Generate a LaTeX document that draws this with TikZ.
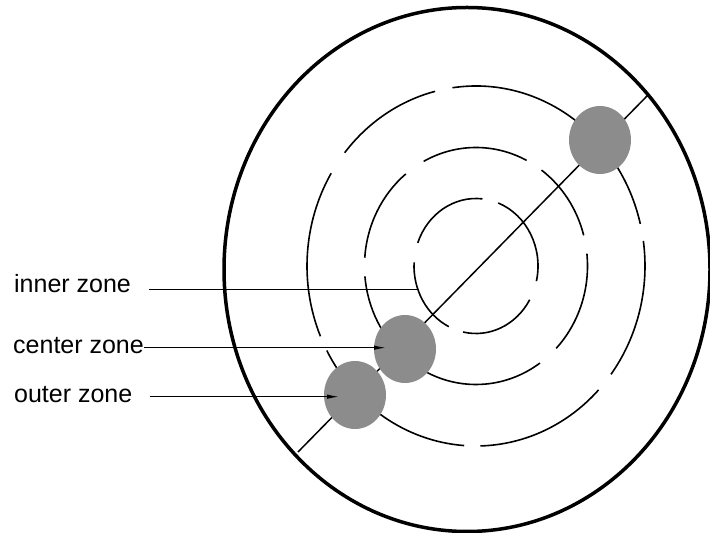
\documentclass[tikz,border=0pt]{standalone}
\usepackage{fontspec}
\setmainfont{Liberation Sans}
\usetikzlibrary{arrows.meta,shapes.geometric}
\begin{document}
\begin{tikzpicture}[x=1pt,y=1pt,
  ring/.style={line width=1.6pt},
  ball/.style={ellipse,fill=black!45,minimum width=62pt,minimum height=68pt,inner sep=0pt},
  zonelabel/.style={anchor=base west,inner sep=0pt,font=\fontsize{25}{30}\selectfont},
  pointer/.style={line width=1.5pt}]
\useasboundingbox (0,0) rectangle (710,533);
\coordinate (ctr) at (476,267);
\draw[line width=3.5pt] (467,263.5) ellipse[x radius=243,y radius=262];
% dashed zone rings
\foreach \a/\b in {84/160,177/244,258/330,347/429}
  \draw[ring] (ctr) ++(\a:62 and 67.5) arc[start angle=\a,end angle=\b,x radius=62,y radius=67.5];
\foreach \a/\b in {15/54,63/118,129/176,185/305,316/366}
  \draw[ring] (ctr) ++(\a:111.5 and 118.5) arc[start angle=\a,end angle=\b,x radius=111.5,y radius=118.5];
\foreach \a/\b in {13.5/98,104/141,149/203,208/266,271.5/316.5,323/368}
  \draw[ring] (ctr) ++(\a:169 and 180) arc[start angle=\a,end angle=\b,x radius=169,y radius=180];
\coordinate (lowend) at (298,81);
\coordinate (highend) at (648,438);
\draw[pointer] (lowend) -- (highend);
\node[ball] (outerball) at (355,138) {};
\node[ball] (centerball) at (405,184) {};
\node[ball] (farball) at (600,393) {};
\node[zonelabel] (innerlbl) at (14,240) {inner zone};
\node[zonelabel] (centerlbl) at (13,179) {center zone};
\node[zonelabel] (outerlbl) at (14,130) {outer zone};
\coordinate (innertip) at (419,243.7);
\coordinate (centertip) at (387,185.3);
\coordinate (outertip) at (340,136.3);
\draw[pointer] (innertip -| innerlbl.east) ++(18,0) -- (innertip);
\draw[pointer,-{Latex[length=13pt,width=4.5pt]}] (centertip -| centerlbl.east) -- (centertip);
\draw[pointer,-{Latex[length=13pt,width=4.5pt]}] (outertip -| outerlbl.east) ++(17,0) -- (outertip);
\end{tikzpicture}
\end{document}
